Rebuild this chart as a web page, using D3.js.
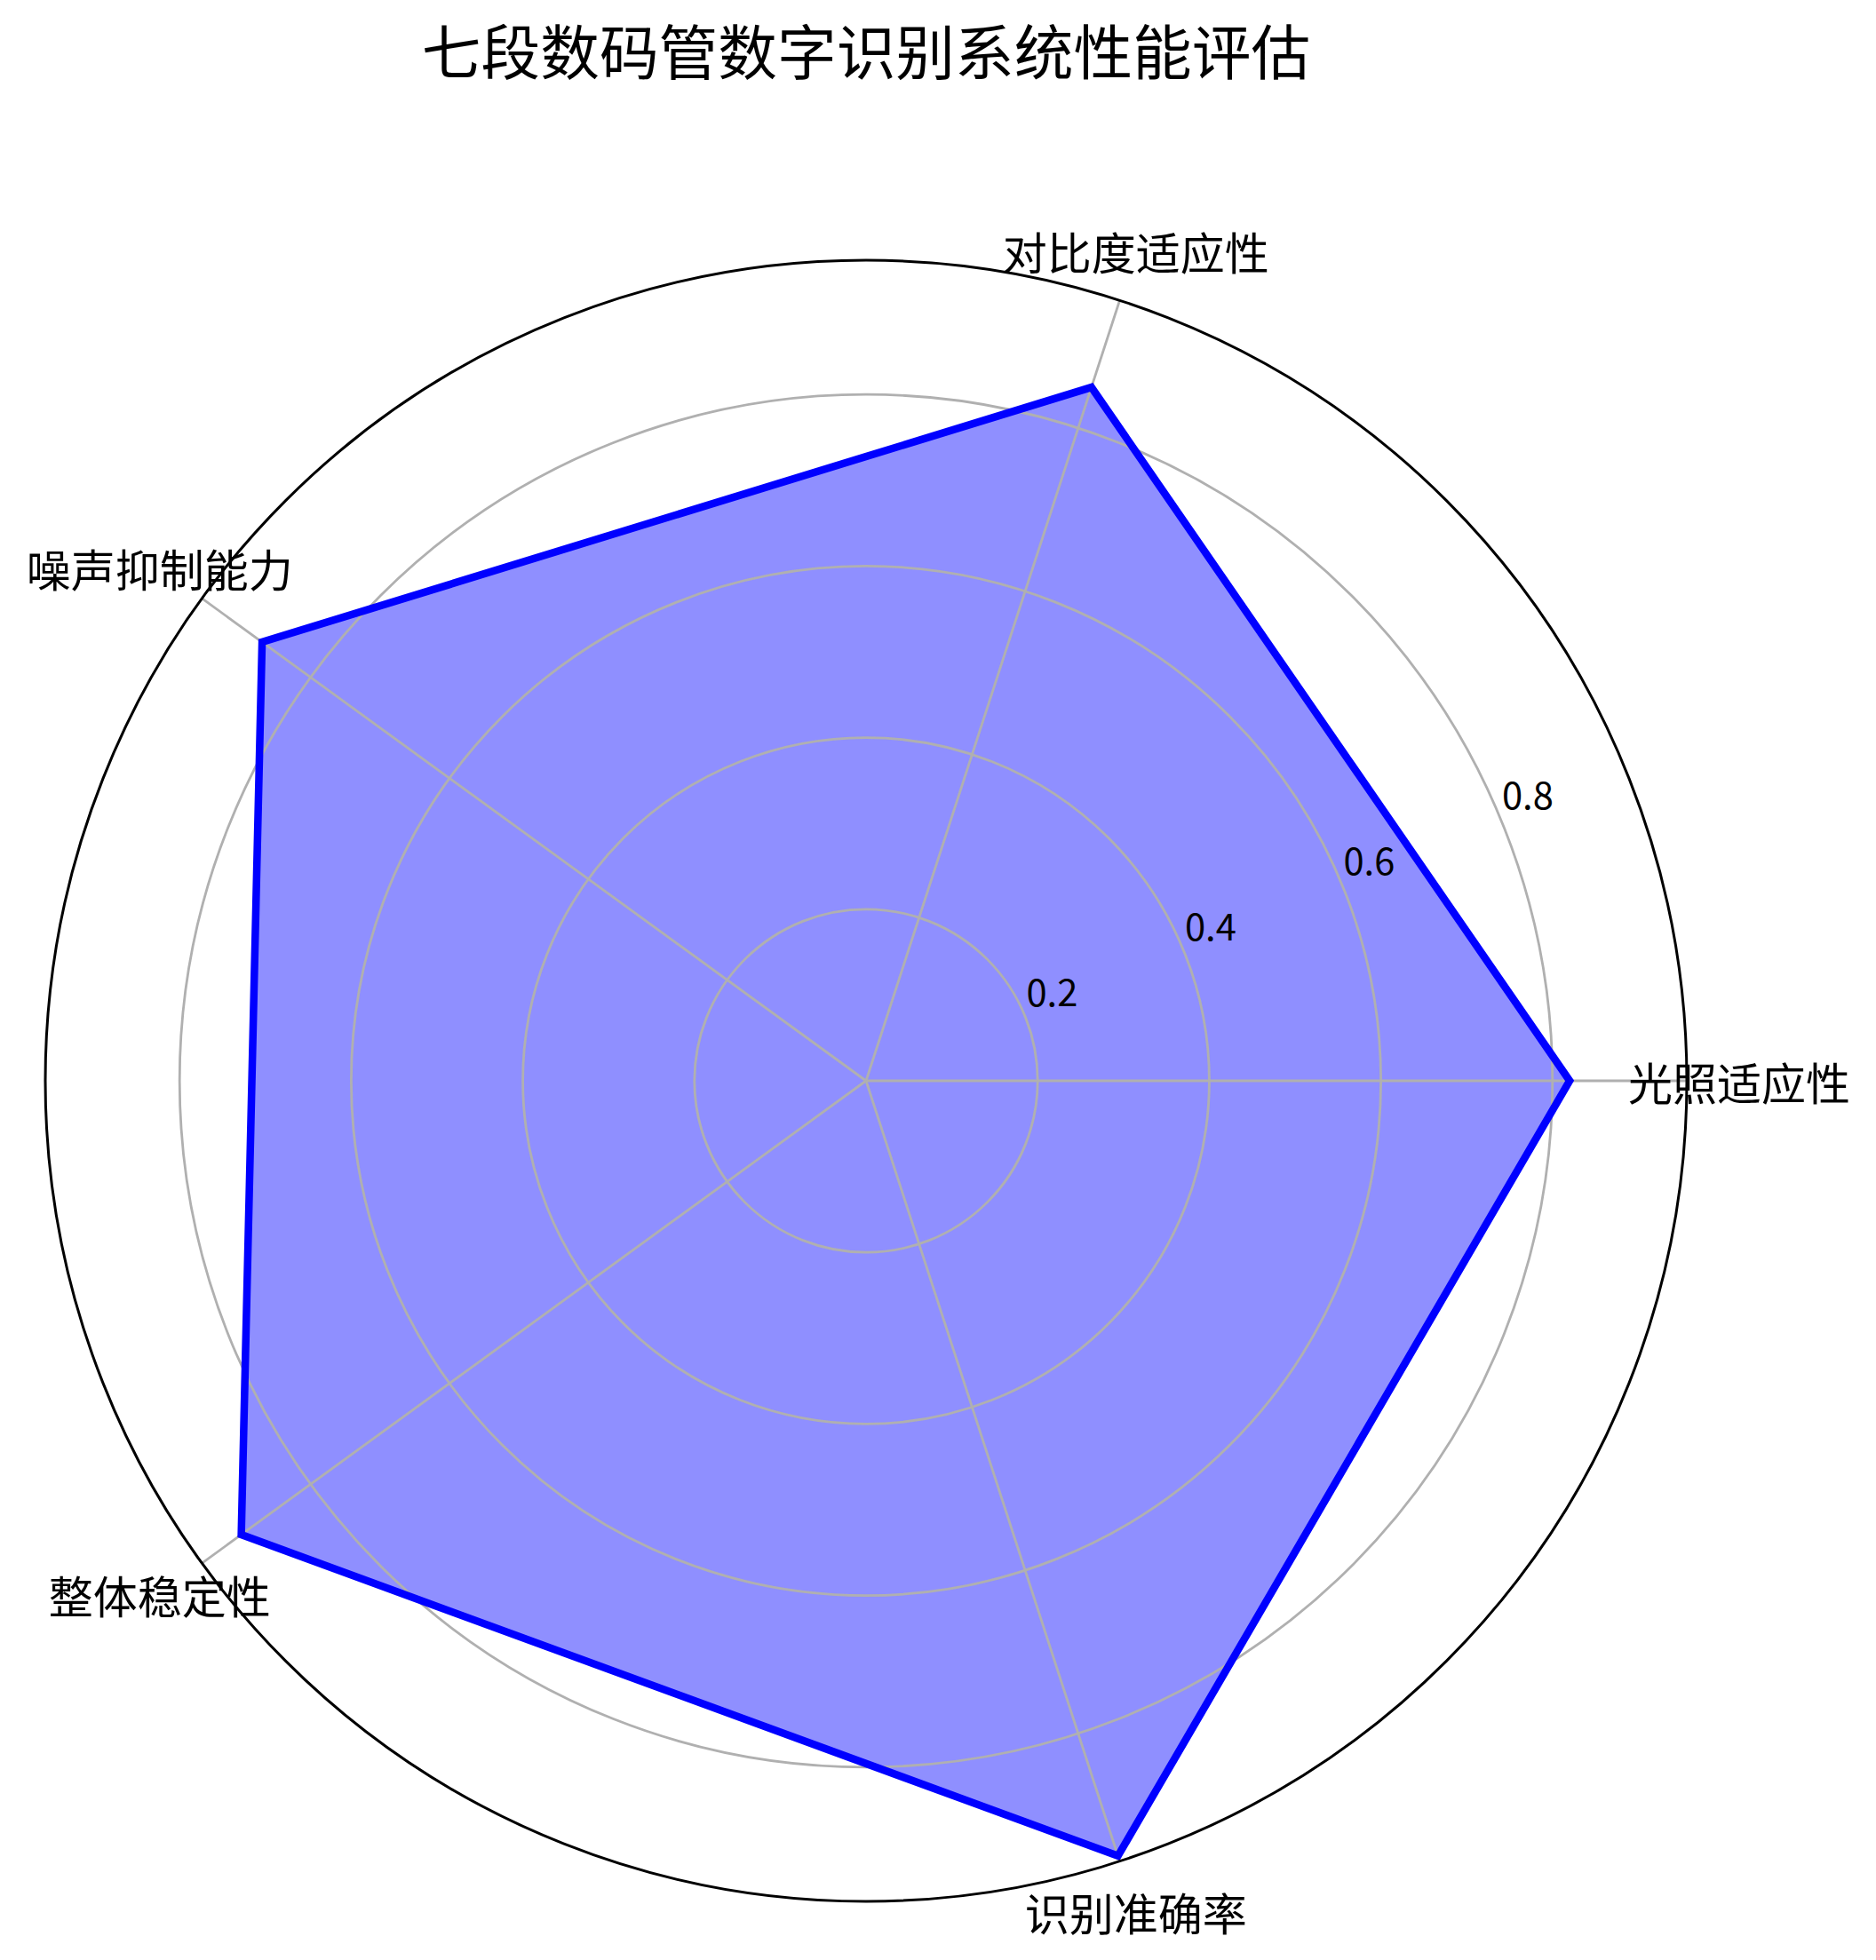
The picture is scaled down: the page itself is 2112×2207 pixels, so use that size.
<!DOCTYPE html>
<html>
<head>
<meta charset="utf-8">
<script src="https://cdn.jsdelivr.net/npm/d3@7"></script>
<style>
  html, body { margin: 0; padding: 0; background: #ffffff; }
  svg { display: block; }
  text { font-family: "Noto Sans CJK SC", "Noto Sans", sans-serif; fill: #000; }
</style>
</head>
<body>
<svg id="chart" width="2112" height="2207"></svg>
<script>
const titleText = "七段数码管数字识别系统性能评估";
const categories = ["光照适应性", "对比度适应性", "噪声抑制能力", "整体稳定性", "识别准确率"];
const values = [0.82, 0.85, 0.87, 0.90, 0.95];
const tickValues = [0.2, 0.4, 0.6, 0.8];
const tickLabels = ["0.2", "0.4", "0.6", "0.8"];

const W = 2112, H = 2207;
const cx = 975, cy = 1217, R = 924;

const svg = d3.select("#chart");
svg.append("rect").attr("width", W).attr("height", H).attr("fill", "#ffffff");

const vmin = d3.min(values), vmax = d3.max(values);
const rmax = vmax + 0.05 * (vmax - vmin);
const r = d3.scaleLinear().domain([0, rmax]).range([0, R]);

const n = categories.length;
const theta = d3.scaleLinear().domain([0, n]).range([0, 2 * Math.PI]); // math angle, CCW from east
const px = (t, rad) => cx + rad * Math.cos(t);
const py = (t, rad) => cy - rad * Math.sin(t);

const g = svg.append("g").attr("transform", `translate(${cx},${cy})`);

// filled area
const radial = d3.lineRadial()
  .angle((d, i) => Math.PI / 2 - theta(i))
  .radius(d => r(d))
  .curve(d3.curveLinearClosed);

g.append("path")
  .datum(values)
  .attr("d", radial)
  .attr("fill", "#0000ff")
  .attr("fill-opacity", 0.44)
  .attr("stroke", "none");

// grid circles
g.selectAll("circle.grid")
  .data(tickValues)
  .join("circle")
  .attr("class", "grid")
  .attr("r", d => r(d))
  .attr("fill", "none")
  .attr("stroke", "#b0b0b0")
  .attr("stroke-width", 2.8);

// spokes
g.selectAll("line.spoke")
  .data(categories)
  .join("line")
  .attr("class", "spoke")
  .attr("x1", 0).attr("y1", 0)
  .attr("x2", (d, i) => R * Math.cos(theta(i)))
  .attr("y2", (d, i) => -R * Math.sin(theta(i)))
  .attr("stroke", "#b0b0b0")
  .attr("stroke-width", 2.8);

// outline
g.append("path")
  .datum(values)
  .attr("d", radial)
  .attr("fill", "none")
  .attr("stroke", "#0000ff")
  .attr("stroke-width", 8.5)
  .attr("stroke-linejoin", "miter");

// outer circle
g.append("circle")
  .attr("r", R)
  .attr("fill", "none")
  .attr("stroke", "#000000")
  .attr("stroke-width", 3);

// radial tick labels at 22.5 deg
const labAng = 22.5 * Math.PI / 180;
svg.selectAll("text.rtick")
  .data(tickValues)
  .join("text")
  .attr("class", "rtick")
  .attr("x", d => px(labAng, r(d)) + 2)
  .attr("y", d => py(labAng, r(d)) - 10)
  .attr("text-anchor", "start")
  .attr("font-size", 41.7)
  .text((d, i) => tickLabels[i]);

// category labels
const labelR = R + 59;
svg.selectAll("text.cat")
  .data(categories)
  .join("text")
  .attr("class", "cat")
  .attr("x", (d, i) => px(theta(i), labelR))
  .attr("y", (d, i) => py(theta(i), labelR))
  .attr("text-anchor", "middle")
  .attr("dominant-baseline", "central")
  .attr("font-size", 50)
  .text(d => d);

// title
svg.append("text")
  .attr("x", cx)
  .attr("y", 84)
  .attr("text-anchor", "middle")
  .attr("font-size", 66.7)
  .text(titleText);
</script>
</body>
</html>
